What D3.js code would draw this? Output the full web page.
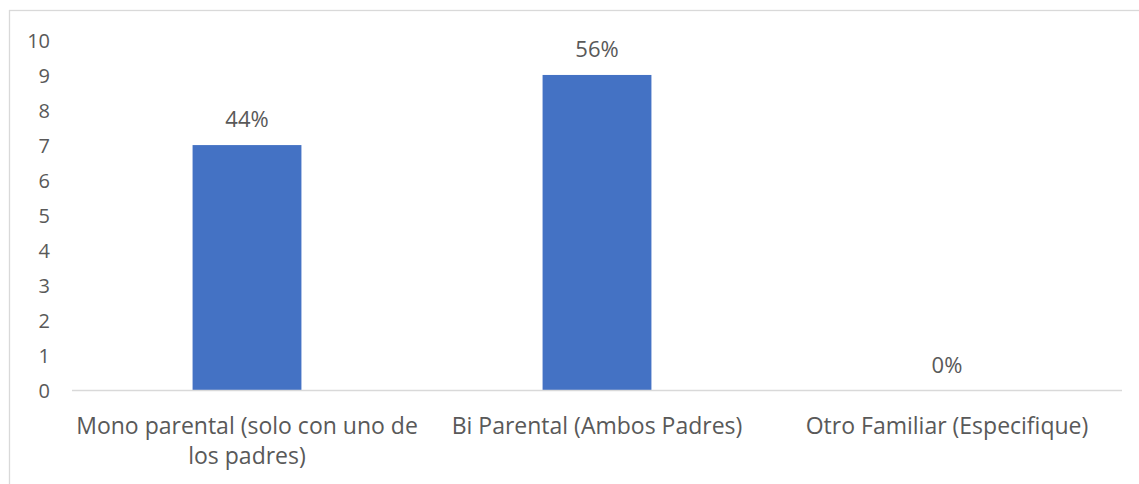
<!DOCTYPE html>
<html>
<head>
<meta charset="utf-8">
<script src="https://cdn.jsdelivr.net/npm/d3@7/dist/d3.min.js"></script>
<style>
  html, body { margin: 0; padding: 0; background: #ffffff; }
  svg { display: block; }
  text { font-family: "Open Sans", "Noto Sans", sans-serif; fill: #595959; }
</style>
</head>
<body>
<svg id="chart" width="1139" height="484"></svg>
<script>
const categories = ["Mono parental (solo con uno de los padres)", "Bi Parental (Ambos Padres)", "Otro Familiar (Especifique)"];
const values = [7, 9, 0];
const percentLabels = ["44%", "56%", "0%"];
const yTicks = [0, 1, 2, 3, 4, 5, 6, 7, 8, 9, 10];

const svg = d3.select("#chart");
const plot = { left: 72, right: 1122, top: 39.9, bottom: 390.5 };

// outer chart border
svg.append("rect")
  .attr("x", 9.5).attr("y", 10.5)
  .attr("width", 1200).attr("height", 600)
  .attr("fill", "none").attr("stroke", "#d9d9d9").attr("stroke-width", 1.3);

const pad = 0.689;
const x = d3.scaleBand().domain(categories).range([plot.left, plot.right])
  .paddingInner(pad).paddingOuter(pad / 2);
const y = d3.scaleLinear().domain([0, 10]).range([plot.bottom, plot.top]);

// y tick labels
const yAxis = d3.axisLeft(y).tickValues(yTicks).tickSize(0).tickPadding(0).tickFormat(d3.format("d"));
const gy = svg.append("g").attr("transform", "translate(50,0)").call(yAxis);
gy.select(".domain").remove();
gy.selectAll("text")
  .attr("font-family", "Open Sans, Noto Sans, sans-serif")
  .attr("font-size", 20).attr("fill", "#595959").attr("dy", "0.36em");

// bars
svg.append("g").selectAll("rect").data(values).join("rect")
  .attr("x", (d, i) => x(categories[i]))
  .attr("width", x.bandwidth())
  .attr("y", d => y(d))
  .attr("height", d => y(0) - y(d))
  .attr("fill", "#4472C4");

// baseline
svg.append("line")
  .attr("x1", plot.left).attr("x2", plot.right)
  .attr("y1", y(0)).attr("y2", y(0))
  .attr("stroke", "#d9d9d9").attr("stroke-width", 1.5);

// data labels
svg.append("g").selectAll("text").data(values).join("text")
  .attr("x", (d, i) => x(categories[i]) + x.bandwidth() / 2)
  .attr("y", d => y(d) - 18)
  .attr("text-anchor", "middle")
  .attr("font-size", 22)
  .text((d, i) => percentLabels[i]);

// category labels (x axis) with wrapping
const xAxis = d3.axisBottom(x).tickSize(0).tickPadding(0);
const gx = svg.append("g").attr("transform", `translate(0,${y(0)})`).call(xAxis);
gx.select(".domain").remove();
gx.selectAll("text")
  .attr("font-family", "Open Sans, Noto Sans, sans-serif")
  .attr("font-size", 23).attr("fill", "#595959")
  .attr("dy", null).attr("y", 0)
  .each(function(d) {
    const t = d3.select(this);
    const words = d.split(" ");
    const maxW = x.step();
    t.text(null);
    let lines = [];
    let line = [];
    let probe = t.append("tspan");
    for (const w of words) {
      line.push(w);
      probe.text(line.join(" "));
      if (probe.node().getComputedTextLength() > maxW && line.length > 1) {
        line.pop();
        lines.push(line.join(" "));
        line = [w];
      }
    }
    lines.push(line.join(" "));
    probe.remove();
    lines.forEach((l, i) => {
      t.append("tspan").attr("x", 0).attr("y", 43.5 + i * 30).text(l);
    });
  });
</script>
</body>
</html>
